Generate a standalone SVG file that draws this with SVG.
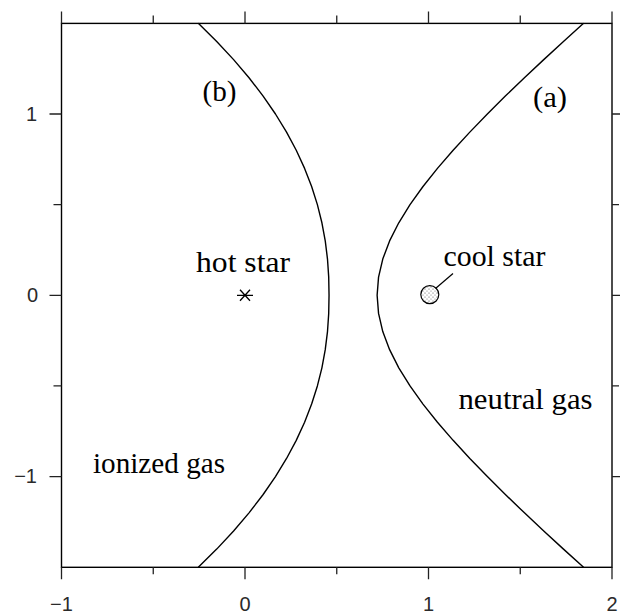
<svg xmlns="http://www.w3.org/2000/svg" width="623" height="614" viewBox="0 0 623 614">
  <style>
    .ax { fill: none; stroke: #000; stroke-width: 1.4; }
    .tk { fill: none; stroke: #222; stroke-width: 1.3; }
    .cv { fill: none; stroke: #000; stroke-width: 1.4; stroke-linejoin: round; }
    .num { font-family: "Liberation Sans", Arial, sans-serif; font-size: 20px; fill: #2a2a2a; }
    .lab { font-family: "Liberation Serif", "Times New Roman", serif; font-size: 29px; fill: #000; }
  </style>
  <defs>
    <pattern id="stipple" width="4" height="4" patternUnits="userSpaceOnUse">
      <circle cx="1" cy="1" r="0.55" fill="#444"/>
      <circle cx="3" cy="3" r="0.5" fill="#555"/>
    </pattern>
  </defs>
  <rect width="623" height="614" fill="#fff"/>

  <g id="axes">
    <rect class="ax" x="61.5" y="23.4" width="550.5" height="543.9"/>
    <path class="tk" d="M61.5 567.3v12 M153.25 567.3v7 M245 567.3v12 M336.75 567.3v7 M428.5 567.3v12 M520.25 567.3v7 M612 567.3v12"/>
    <path class="tk" d="M61.5 23.4v-12 M153.25 23.4v-8 M245 23.4v-12 M336.75 23.4v-8 M428.5 23.4v-12 M520.25 23.4v-8 M612 23.4v-12"/>
    <path class="tk" d="M61.5 114h-12 M61.5 204.65h-8 M61.5 295.3h-12 M61.5 385.95h-8 M61.5 476.6h-12"/>
    <path class="tk" d="M612 114h8 M612 204.65h7 M612 295.3h8 M612 385.95h7 M612 476.6h8"/>
    <text class="num" x="37" y="121" text-anchor="end">1</text>
    <text class="num" x="38" y="302" text-anchor="end">0</text>
    <text class="num" x="37" y="483" text-anchor="end">−1</text>
    <text class="num" x="61.5" y="611" text-anchor="middle">−1</text>
    <text class="num" x="245" y="611" text-anchor="middle">0</text>
    <text class="num" x="428.5" y="611" text-anchor="middle">1</text>
    <text class="num" x="612" y="611" text-anchor="middle">2</text>
  </g>

  <g id="connectors">
    <path id="front-b" class="cv" d="M198.30 23.35 L216.71 41.48 L233.61 59.61 L249.02 77.74 L262.96 95.87 L275.46 114.0 L286.55 132.13 L296.25 150.26 L304.60 168.39 L311.63 186.52 L317.38 204.65 L321.91 222.78 L325.25 240.91 L327.49 259.04 L328.71 277.17 L329.04 295.3 L328.71 313.43 L327.49 331.56 L325.25 349.69 L321.91 367.82 L317.38 385.95 L311.63 404.08 L304.60 422.21 L296.25 440.34 L286.55 458.47 L275.46 476.6 L262.96 494.73 L249.02 512.86 L233.61 530.99 L216.71 549.12 L198.30 567.25"/>
    <path id="front-a" class="cv" d="M583.56 23.35 L563.48 41.48 L543.75 59.61 L524.43 77.74 L505.60 95.87 L487.36 114.0 L469.82 132.13 L453.13 150.26 L437.45 168.39 L423.00 186.52 L410.01 204.65 L398.78 222.78 L389.60 240.91 L382.77 259.04 L378.55 277.17 L377.12 295.3 L378.55 313.43 L382.77 331.56 L389.60 349.69 L398.78 367.82 L410.01 385.95 L423.00 404.08 L437.45 422.21 L453.13 440.34 L469.82 458.47 L487.36 476.6 L505.60 494.73 L524.43 512.86 L543.75 530.99 L563.48 549.12 L583.56 567.25"/>
    <line id="leader" x1="435.5" y1="288.5" x2="453" y2="273.5" stroke="#000" stroke-width="1.2"/>
  </g>

  <g id="hot-star">
    <path d="M237 295.3h16 M240 289.8l10 11 M240 300.8l10 -11" stroke="#000" stroke-width="1.3" fill="none"/>
    <text class="lab" x="196" y="272" textLength="94" lengthAdjust="spacingAndGlyphs">hot star</text>
  </g>

  <g id="cool-star">
    <circle cx="429.8" cy="294.6" r="9" fill="url(#stipple)" stroke="#000" stroke-width="1.2"/>
    <text class="lab" x="443.5" y="266" textLength="102" lengthAdjust="spacingAndGlyphs">cool star</text>
  </g>

  <g id="label-b">
    <text class="lab" x="202.5" y="101" textLength="34" lengthAdjust="spacingAndGlyphs">(b)</text>
  </g>
  <g id="label-a">
    <text class="lab" x="533" y="107" textLength="34" lengthAdjust="spacingAndGlyphs">(a)</text>
  </g>
  <g id="ionized-gas">
    <text class="lab" x="93" y="473" textLength="132" lengthAdjust="spacingAndGlyphs">ionized gas</text>
  </g>
  <g id="neutral-gas">
    <text class="lab" x="458.5" y="409" textLength="134" lengthAdjust="spacingAndGlyphs">neutral gas</text>
  </g>
</svg>
